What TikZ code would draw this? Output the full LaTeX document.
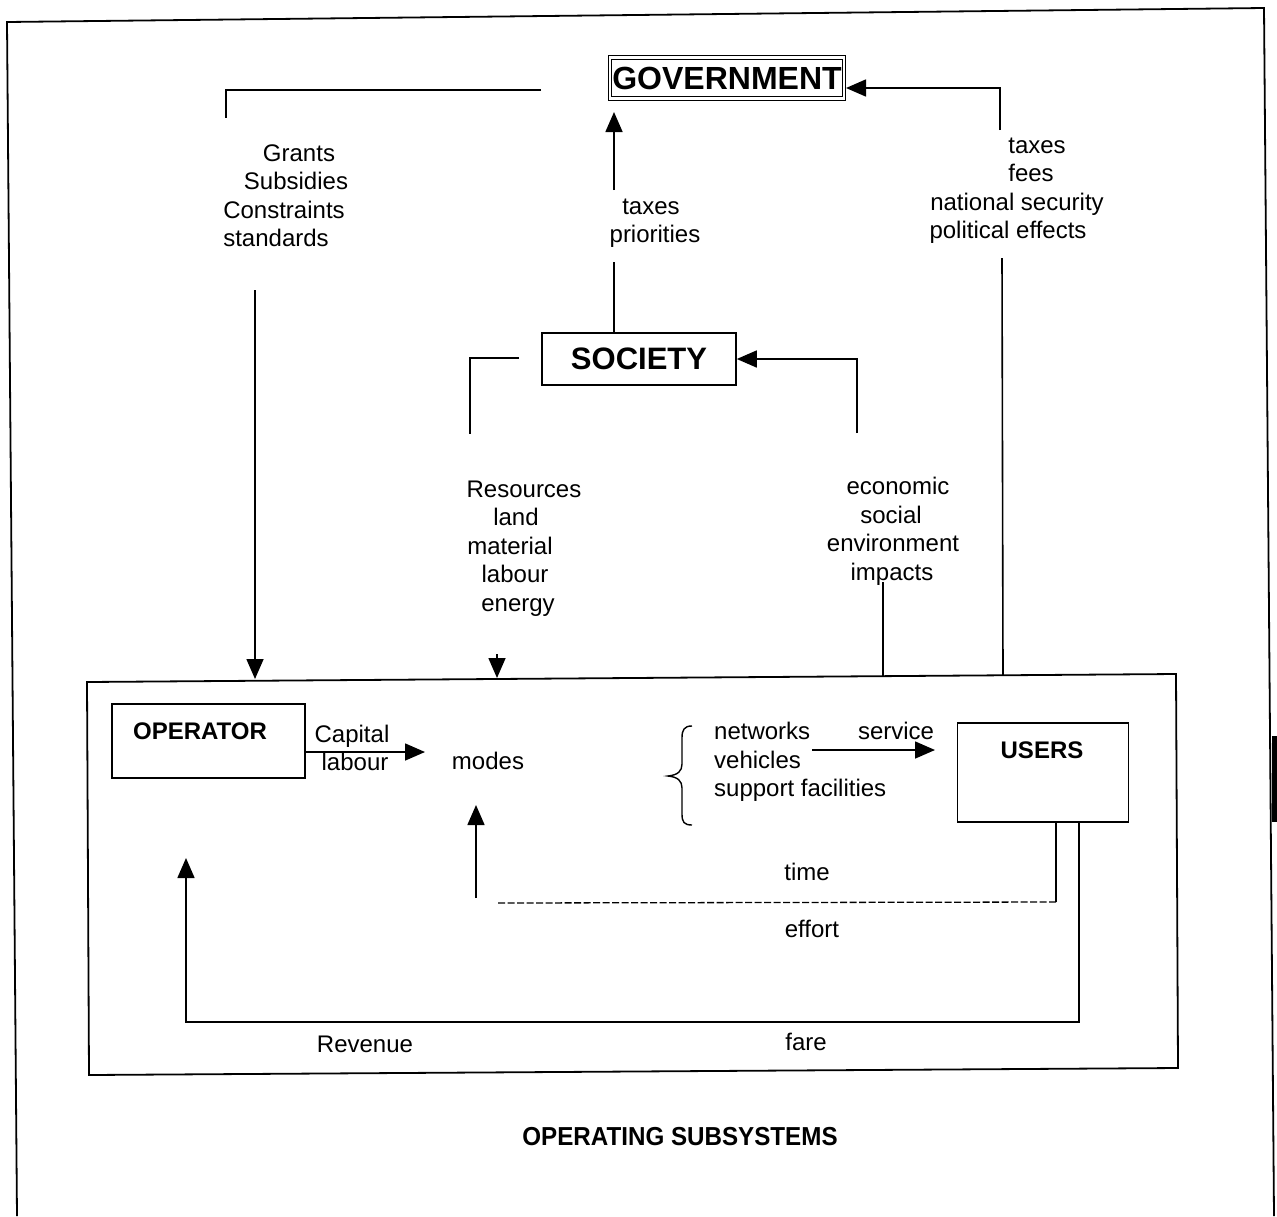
\documentclass[tikz,border=0pt]{standalone}
\usepackage{fontspec}
\setmainfont{Liberation Sans}
\usetikzlibrary{arrows.meta}
\begin{document}
\begin{tikzpicture}[x=1pt,y=-1pt,
  ln/.style={line width=1.6pt},
  arr/.style={line width=1.6pt,-{Triangle[length=20pt,width=17pt]}},
  lbl/.style={inner sep=0pt,text height=17pt,text depth=1pt,font=\fontsize{24}{28}\selectfont},
  boxlbl/.style={inner sep=0pt,text height=17pt,text depth=1pt,font=\bfseries\fontsize{24}{28}\selectfont},
  box/.style={draw,line width=1.6pt,inner sep=0pt}]
\useasboundingbox (0,0) rectangle (1277,1216);

% page frame
\draw[line width=1.8pt] (17,1216) -- (7,22) -- (1264,8) -- (1274,1216);
\fill (1272,736) rectangle (1277,822);

% top level boxes
\node[draw,double,double distance=2.2pt,line width=1.1pt,inner sep=0pt,
      minimum width=234pt,minimum height=41pt] (gov) at (727,78)
      {\bfseries\fontsize{32}{32}\selectfont GOVERNMENT};
\node[box,minimum width=194pt,minimum height=52pt] (soc) at (639,359)
      {\bfseries\fontsize{31}{31}\selectfont SOCIETY};

% operating subsystem frame
\draw[line width=1.8pt] (87,682) -- (1176,674) -- (1178,1068) -- (89,1075) -- cycle;
\coordinate (opsTopA) at (255,679);
\coordinate (opsTopB) at (497,678);
\coordinate (opsTopC) at (883,676);
\coordinate (opsTopD) at (1003,675);

% inner boxes
\node[box,minimum width=193pt,minimum height=74pt] (op) at (208.5,741) {};
\node[boxlbl] (opt) at (200,731) {OPERATOR};
\node[box,minimum width=171pt,minimum height=99pt] (users) at (1043,772.5) {};
\node[boxlbl] (ust) at (1042,750) {USERS};

% government -> operator
\coordinate (gA) at (541,90);
\coordinate (gB) at (226,118);
\draw[ln] (gA) -| (gB);
\node[lbl] (t1) at (299,153) {Grants};
\node[lbl] (t2) at (296,181) {Subsidies};
\node[lbl] (t3) at (284,210) {Constraints};
\node[lbl] (t4) at (276,238) {standards};
\coordinate (gC) at (255,290);
\draw[arr] (gC) -- (opsTopA);

% society -> government
\coordinate (sA) at (614,262);
\coordinate (sB) at (614,190);
\coordinate (sC) at (614,112);
\draw[ln] (soc.north -| sA) -- (sA);
\draw[arr] (sB) -- (sC);
\node[lbl] (t5) at (651,206) {taxes};
\node[lbl] (t6) at (655,234) {priorities};

% users -> government
\coordinate (uA) at (1000,130);
\coordinate (uB) at (846,88);
\coordinate (uC) at (1002,258);
\draw[arr] (uA) |- (uB);
\draw[ln] (opsTopD) -- (uC);
\node[lbl] (t7) at (1037,145) {taxes};
\node[lbl] (t8) at (1031,173) {fees};
\node[lbl] (t9) at (1017,202) {national security};
\node[lbl] (t10) at (1008,230) {political effects};

% society -> modes
\coordinate (rA) at (519,358);
\coordinate (rB) at (470,434);
\draw[ln] (rA) -| (rB);
\node[lbl] (t11) at (524,489) {Resources};
\node[lbl] (t12) at (516,517) {land};
\node[lbl] (t13) at (510,546) {material};
\node[lbl] (t14) at (515,574) {labour};
\node[lbl] (t15) at (518,603) {energy};
\coordinate (rC) at (497,654);
\draw[arr] (rC) -- (opsTopB);

% impacts -> society
\coordinate (iA) at (857,433);
\draw[arr] (iA) |- (soc.east);
\node[lbl] (t16) at (898,486) {economic};
\node[lbl] (t17) at (891,515) {social};
\node[lbl] (t18) at (893,543) {environment};
\node[lbl] (t19) at (892,572) {impacts};
\coordinate (iB) at (883,582);
\draw[ln] (opsTopC) -- (iB);

% operator -> modes
\node[lbl] (modes) at (488,761) {modes};
\coordinate (mA) at (425,752);
\draw[arr] (op.east |- mA) -- (mA);
\node[lbl] (t20) at (352,734) {Capital};
\node[lbl] (t21) at (355,762) {labour};

% modes components
\draw[line width=1.4pt] (692,726) .. controls (684,726) and (682,730) .. (682,738)
  -- (682,764) .. controls (682,771) and (678,775) .. (668,776)
  .. controls (678,777) and (682,781) .. (682,788)
  -- (682,814) .. controls (682,822) and (684,825) .. (692,825);
\node[lbl,anchor=west] (t22) at (714,731) {networks};
\node[lbl,anchor=west] (t23) at (714,760) {vehicles};
\node[lbl,anchor=west] (t24) at (714,788) {support facilities};
\node[lbl] (t25) at (896,731) {service};
\coordinate (vA) at (812,750);
\coordinate (vB) at (935,750);
\draw[arr] (vA) -- (vB);

% users -> modes
\coordinate (eA) at (1056,902);
\coordinate (eB) at (497,903);
\draw[ln] (users.south -| eA) -- (eA);
\draw[line width=1.3pt,dash pattern=on 7pt off 2.5pt] (eA) -- (eB);
\coordinate (eC) at (476,898);
\coordinate (eD) at (476,805);
\draw[arr] (eC) -- (eD);
\node[lbl] (t26) at (807,872) {time};
\node[lbl] (t27) at (812,929) {effort};

% users -> operator
\coordinate (fA) at (1079,1022);
\coordinate (fB) at (186,858);
\draw[arr] (users.south -| fA) -- (fA) -| (fB);
\node[lbl] (t28) at (365,1044) {Revenue};
\node[lbl] (t29) at (806,1042) {fare};

% caption
\node[inner sep=0pt] (cap) at (680,1137)
  {\scalebox{0.93}[1]{\bfseries\fontsize{26}{26}\selectfont OPERATING SUBSYSTEMS}};
\end{tikzpicture}
\end{document}
